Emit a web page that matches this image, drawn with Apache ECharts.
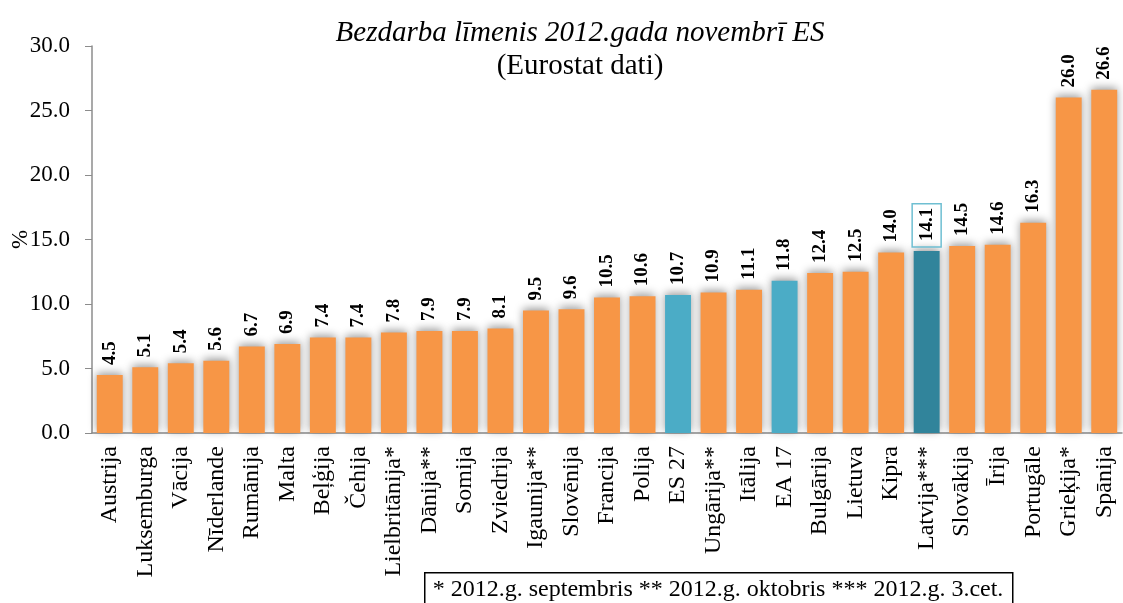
<!DOCTYPE html>
<html>
<head>
<meta charset="utf-8">
<script src="https://cdn.jsdelivr.net/npm/echarts@6/dist/echarts.min.js"></script>
<style>
  html, body { margin: 0; padding: 0; background: #fff; }
  #chart { width: 1123px; height: 603px; }
</style>
</head>
<body>
<div id="chart"></div>
<script>
const countries = ['Austrija', 'Luksemburga', 'Vācija', 'Nīderlande', 'Rumānija', 'Malta', 'Beļģija', 'Čehija',
  'Lielbritānija*', 'Dānija**', 'Somija', 'Zviedrija', 'Igaunija**', 'Slovēnija', 'Francija', 'Polija', 'ES 27',
  'Ungārija**', 'Itālija', 'EA 17', 'Bulgārija', 'Lietuva', 'Kipra', 'Latvija***', 'Slovākija', 'Īrija',
  'Portugāle', 'Grieķija*', 'Spānija']
const rates = [4.5, 5.1, 5.4, 5.6, 6.7, 6.9, 7.4, 7.4, 7.8, 7.9, 7.9, 8.1, 9.5, 9.6, 10.5, 10.6, 10.7,
  10.9, 11.1, 11.8, 12.4, 12.5, 14.0, 14.1, 14.5, 14.6, 16.3, 26.0, 26.6]
const aggregates = ['ES 27', 'EA 17']
const highlight = 'Latvija***'
const footnote = '* 2012.g. septembris ** 2012.g. oktobris *** 2012.g. 3.cet.'

const serif = '"Liberation Serif", "DejaVu Serif", serif'
const orange = '#f79646'
const lightBlue = '#4bacc6'
const darkTeal = '#31849b'

const chart = echarts.init(document.getElementById('chart'))

const barData = countries.map((name, i) => {
  let color = orange
  if (aggregates.includes(name)) color = lightBlue
  if (name === highlight) color = darkTeal
  const item = { value: rates[i], itemStyle: { color } }
  if (name === highlight) {
    item.label = { borderColor: '#6fbfd2', borderWidth: 1.5, padding: [5, 4, 5, 6], distance: 4 }
  }
  return item
})

chart.setOption({
  backgroundColor: '#fff',
  animation: false,
  title: {
    text: 'Bezdarba līmenis 2012.gada novembrī ES',
    subtext: '(Eurostat dati)',
    left: 575,
    textAlign: 'center',
    top: 14,
    itemGap: 4,
    textStyle: { fontFamily: serif, fontStyle: 'italic', fontWeight: 'normal', fontSize: 29, color: '#000' },
    subtextStyle: { fontFamily: serif, fontSize: 29, color: '#000' }
  },
  grid: { left: 92, right: 1, top: 46, bottom: 170, containLabel: false, outerBoundsMode: 'none' },
  xAxis: {
    type: 'category',
    data: countries,
    axisLine: { lineStyle: { color: '#8c8c8c', width: 1.5 } },
    axisTick: { show: false },
    axisLabel: {
      rotate: 90,
      interval: 0,
      margin: 13,
      fontFamily: serif,
      fontSize: 24,
      color: '#000'
    }
  },
  yAxis: {
    type: 'value',
    min: 0,
    max: 30,
    interval: 5,
    name: '%',
    nameLocation: 'middle',
    nameRotate: 90,
    nameGap: 60,
    nameMoveOverlap: false,
    nameTextStyle: { fontFamily: serif, fontSize: 23, color: '#000' },
    axisLine: { show: true, lineStyle: { color: '#8c8c8c', width: 1.5 } },
    axisTick: { show: true, length: 7, lineStyle: { color: '#8c8c8c' } },
    splitLine: { show: false },
    axisLabel: {
      margin: 22,
      fontFamily: serif,
      fontSize: 23,
      color: '#000',
      formatter: (v) => v.toFixed(1)
    }
  },
  series: [{
    type: 'bar',
    data: barData,
    barCategoryGap: '27%',
    itemStyle: { shadowBlur: 9, shadowColor: 'rgba(0,0,0,0.4)', shadowOffsetY: -2 },
    label: {
      show: true,
      position: 'top',
      rotate: 90,
      align: 'left',
      verticalAlign: 'middle',
      distance: 10,
      fontFamily: serif,
      fontWeight: 'bold',
      fontSize: 19,
      color: '#000',
      formatter: (p) => p.value.toFixed(1)
    }
  }],
  graphic: [{
    type: 'group',
    left: 424,
    top: 572,
    children: [
      { type: 'rect', shape: { x: 0, y: 0, width: 588, height: 40 }, style: { fill: '#fff', stroke: '#000', lineWidth: 1.5 } },
      { type: 'text', x: 8, y: 5, style: { text: footnote, fontFamily: serif, fontSize: 24, fill: '#000' } }
    ]
  }]
})
</script>
</body>
</html>
